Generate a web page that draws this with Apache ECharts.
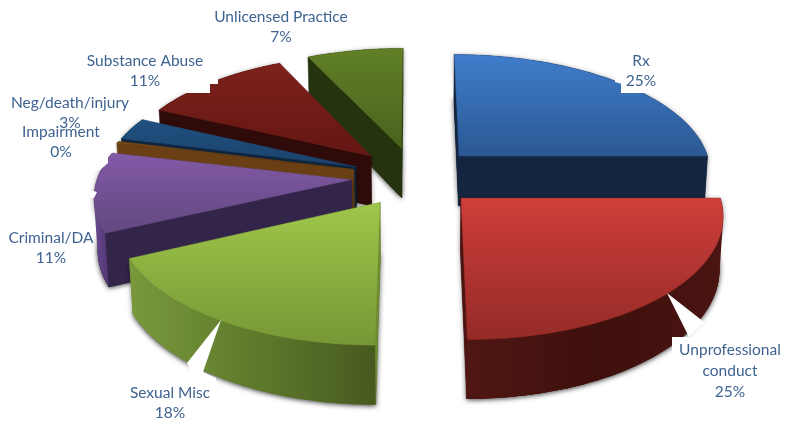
<!DOCTYPE html>
<html>
<head>
<meta charset="utf-8">
<style>html,body{margin:0;padding:0;background:#fff}#chart{width:788px;height:426px}</style>
<script src="https://cdn.jsdelivr.net/npm/echarts@6/dist/echarts.min.js"></script>
</head>
<body>
<div id="chart"></div>
<script>
// Complaint categories and their share of all cases, percent
const categories = ['Rx', 'Unprofessional\nconduct', 'Sexual Misc', 'Criminal/DA', 'Impairment', 'Neg/death/injury', 'Substance Abuse', 'Unlicensed Practice'];
const shares = [25, 25, 18, 10.7, 0.3, 3, 11, 7];

// Per-slice palette: top face gradient, flat radial wall, rim wall gradient
const topColors = [['#3f7dcb', '#2b5893'], ['#cf3e3a', '#942b27'], ['#9fc74a', '#779736'], ['#8159a6', '#634880'], ['#7a4a18', '#5e3812'], ['#20507f', '#1b426c'], ['#7d211c', '#651713'], ['#618027', '#4a611d']];
const wallColors = ['#14253f', '#4c1512', '#6d8a32', '#33244a', '#6a3f14', '#0f2640', '#2e0b08', '#26330f'];
const rimColors = [['#1d3557', '#14253f'], ['#4f1613', '#3e100d', '#4a1411'], ['#7a993c', '#5f7a2c', '#475a1f'], ['#6a4a90', '#4f3670'], ['#6a3f14', '#6a3f14'], ['#15304f', '#15304f'], ['#4a1210', '#3a0e0c'], ['#3b4d17', '#2d3b12']];

// Label centres in page pixels
const labelCentres = [[641, 71], [730, 371], [170, 403], [51, 248], [61, 142], [70, 113], [145, 71], [281, 27]];
// White label plates that bite into the slices, with their callout tips
const labelPlates = [
  [[621, 60], [670, 60], [670, 93], [621, 93]],
  [[615, 70], [622, 70], [622, 84], [615, 82]],
  [[185, 70], [210, 70], [210, 93], [185, 93]],
  [[205, 60], [218, 60], [218, 84], [205, 84]],
  [[85, 140], [108, 140], [108, 163], [100, 170], [85, 170]],
  [[90, 190], [97, 192], [94, 198], [90, 198]],
  [[667, 293], [704, 322], [689, 337], [788, 337], [788, 426], [672, 426], [672, 337], [689, 337]],
  [[221, 320], [203, 372], [216, 378], [216, 426], [125, 426], [125, 378], [194, 378], [187, 363]]
];

// Perspective model of the pie plane
const centreX = 415, horizon = -800, eyeScale = 1000, eyeDepth = 2090;
const pieCentreV = -50, radius = 260, explode = 65, thickness = 52, verticalVanish = 4500;

function project(X, v, drop) {
  const s = eyeDepth / (eyeDepth - v);
  let x = centreX + X * s, y = horizon + eyeScale * s;
  if (drop) {
    const b = thickness * s;
    y += b;
    x = centreX + (x - centreX) * (1 - b / verticalVanish);
  }
  return [x, y];
}
function area(p) {
  let a = 0;
  p.forEach((q, i) => { const n = p[(i + 1) % p.length]; a += q[0] * n[1] - n[0] * q[1]; });
  return a;
}
function vertical(stops) {
  return { type: 'linear', x: 0, y: 0, x2: 0, y2: 1, colorStops: stops.map((c, i) => ({ offset: i / (stops.length - 1), color: c })) };
}
function horizontal(stops) {
  return { type: 'linear', x: 0, y: 0, x2: 1, y2: 0, colorStops: stops.map((c, i) => ({ offset: i / (stops.length - 1), color: c })) };
}

// Turn the shares into wedges: angles run clockwise from twelve o'clock
const total = shares.reduce((a, b) => a + b, 0);
let running = 0;
const wedges = shares.map((value, index) => {
  const a0 = running / total * Math.PI * 2;
  running += value;
  const a1 = running / total * Math.PI * 2;
  const mid = (a0 + a1) / 2;
  return {
    index, a0, a1,
    ax: Math.sin(mid) * explode,
    av: pieCentreV - Math.cos(mid) * explode
  };
});
// Far slices are painted first
const paintOrder = wedges.slice().sort((p, q) => p.av - q.av);

function renderWedge(params, api) {
  const w = paintOrder[api.value(0)];
  const rim = (a, drop) => project(w.ax + Math.sin(a) * radius, w.av - Math.cos(a) * radius, drop);
  const steps = Math.max(2, Math.ceil((w.a1 - w.a0) / 0.02));
  const angles = [];
  for (let i = 0; i <= steps; i++) angles.push(w.a0 + (w.a1 - w.a0) * i / steps);
  const apexTop = project(w.ax, w.av, false), apexLow = project(w.ax, w.av, true);
  const topFace = [apexTop].concat(angles.map(a => rim(a, false)));
  const lowFace = [apexLow].concat(angles.map(a => rim(a, true)));
  const children = [];

  // Soft contact shadow from the underside
  children.push({ type: 'polygon', shape: { points: lowFace.concat(topFace.slice().reverse()) }, style: { fill: wallColors[w.index], shadowColor: 'rgba(0,0,0,0.45)', shadowBlur: 5, shadowOffsetY: 1 } });
  children.push({ type: 'polygon', shape: { points: lowFace }, style: { fill: wallColors[w.index], shadowColor: 'rgba(0,0,0,0.45)', shadowBlur: 5, shadowOffsetY: 1 } });

  // Radial walls, only where they face the viewer
  const startWall = [apexTop, rim(w.a0, false), rim(w.a0, true), apexLow];
  const endWall = [apexTop, rim(w.a1, false), rim(w.a1, true), apexLow];
  if (area(startWall) < 0) children.push({ type: 'polygon', shape: { points: startWall }, style: { fill: wallColors[w.index], stroke: wallColors[w.index], lineWidth: 0.5 } });
  if (area(endWall) > 0) children.push({ type: 'polygon', shape: { points: endWall }, style: { fill: wallColors[w.index], stroke: wallColors[w.index], lineWidth: 0.5 } });

  // Curved rim wall, the part that faces the viewer
  const upper = [], lower = [];
  for (let i = 0; i < angles.length - 1; i++) {
    const q = [rim(angles[i], false), rim(angles[i + 1], false), rim(angles[i + 1], true), rim(angles[i], true)];
    if (area(q) < 0) {
      if (!upper.length) { upper.push(q[0]); lower.push(q[3]); }
      upper.push(q[1]); lower.push(q[2]);
    }
  }
  if (upper.length) {
    children.push({ type: 'polygon', shape: { points: upper.concat(lower.reverse()) }, style: { fill: horizontal(rimColors[w.index]) } });
  }

  children.push({ type: 'polygon', shape: { points: topFace }, style: { fill: vertical(topColors[w.index]), stroke: topColors[w.index][1], lineWidth: 0.4 } });
  return { type: 'group', children };
}

function renderPlate(params, api) {
  return { type: 'polygon', shape: { points: labelPlates[api.value(0)] }, style: { fill: '#ffffff' } };
}

function renderLabel(params, api) {
  const i = api.value(0);
  const pct = Math.round(shares[i] / total * 100);
  return {
    type: 'text',
    style: {
      x: labelCentres[i][0], y: labelCentres[i][1],
      text: categories[i] + '\n' + pct + '%',
      fill: '#3f6391', font: '15.5px Lato, Carlito, sans-serif',
      lineHeight: 20.7, align: 'center', verticalAlign: 'middle'
    }
  };
}

const chart = echarts.init(document.getElementById('chart'), null, { renderer: 'canvas' });
chart.setOption({
  animation: false,
  backgroundColor: '#ffffff',
  series: [
    { type: 'custom', coordinateSystem: 'none', silent: true, z: 2, renderItem: renderWedge, data: paintOrder.map((w, i) => [i]) },
    { type: 'custom', coordinateSystem: 'none', silent: true, z: 3, renderItem: renderPlate, data: labelPlates.map((p, i) => [i]) },
    { type: 'custom', coordinateSystem: 'none', silent: true, z: 4, renderItem: renderLabel, data: categories.map((c, i) => [i]) }
  ]
});
</script>
</body>
</html>
